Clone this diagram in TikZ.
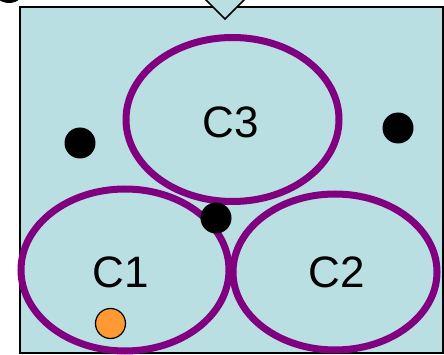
\documentclass[tikz,border=0pt]{standalone}
\usepackage{fontspec}
\setmainfont{Liberation Sans}
\definecolor{panel}{RGB}{186,223,227}
\definecolor{ring}{RGB}{128,0,128}
\definecolor{marker}{RGB}{255,153,51}
\begin{document}
\begin{tikzpicture}[x=1pt,y=-1pt,
  setring/.style={draw=ring,line width=7pt},
  blackdot/.style={circle,fill=black,inner sep=0pt,minimum size=31pt},
  orangedot/.style={circle,fill=marker,draw=black,line width=1.2pt,inner sep=0pt,minimum size=30pt},
  setlabel/.style={font=\fontsize{44}{50}\selectfont,inner sep=0pt}]
\useasboundingbox (0,0) rectangle (444,355);
% universe box
\draw[fill=panel,line width=1.5pt] (20,7) rectangle (443,353);
% pointer wedge at the top edge
\draw[fill=panel,line width=1.5pt] (196,-10) -- (225,19) -- (254,-10);
% partly hidden disc in the corner
\fill[black] (9,-14) circle (17);
% the three sets
\draw[setring] (232.5,119.5) ellipse [x radius=106.5, y radius=82];
\draw[setring] (125,270) ellipse [x radius=104, y radius=81];
\draw[setring] (335,272) ellipse [x radius=102, y radius=78];
\node[setlabel] (c3) at (231,122) {C3};
\node[setlabel] (c1) at (121,272) {C1};
\node[setlabel] (c2) at (337,272) {C2};
% elements
\node[blackdot] (p1) at (80,143) {};
\node[blackdot] (p2) at (398,128) {};
\node[blackdot] (p3) at (216,218) {};
\node[orangedot] (q1) at (110.5,323.5) {};
\end{tikzpicture}
\end{document}
